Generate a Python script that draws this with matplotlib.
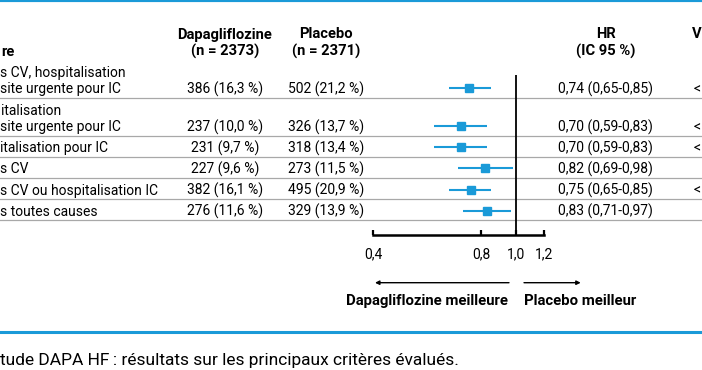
import matplotlib
matplotlib.use("Agg")
import matplotlib.pyplot as plt
from matplotlib.ticker import NullLocator

plt.rcParams['font.family'] = ['Roboto', 'DejaVu Sans']

# ---------------- data (as visible in the cropped reference) ----------------
criteria = [
    "s CV, hospitalisation\nsite urgente pour IC",
    "italisation\nsite urgente pour IC",
    "italisation pour IC",
    "s CV",
    "s CV ou hospitalisation IC",
    "s toutes causes",
]
dapa_n = [386, 237, 231, 227, 382, 276]
dapa_pct = [16.3, 10.0, 9.7, 9.6, 16.1, 11.6]
plac_n = [502, 326, 318, 273, 495, 329]
plac_pct = [21.2, 13.7, 13.4, 11.5, 20.9, 13.9]
hr = [0.74, 0.70, 0.70, 0.82, 0.75, 0.83]
ci_low = [0.65, 0.59, 0.59, 0.69, 0.65, 0.71]
ci_high = [0.85, 0.83, 0.83, 0.98, 0.85, 0.97]
p_values = ["<", "<", "<", "", "<", ""]
x_ticks = [0.4, 0.8, 1.0, 1.2]
x_tick_labels = ["0,4", "0,8", "1,0", "1,2"]

col_headers = ["Dapagliflozine\n(n = 2373)", "Placebo\n(n = 2371)", "HR\n(IC 95 %)"]
first_header = "re"
last_header = "V"
caption = "tude DAPA HF\u202f: résultats sur les principaux critères évalués."
better_left = "Dapagliflozine meilleure"
better_right = "Placebo meilleur"

# ---------------- layout ----------------
W, H = 702, 370
BLUE = '#1a9ad8'
GREY = '#a8a8a8'
FS = 10
FSB = 10.6

fig = plt.figure(figsize=(W / 100, H / 100), dpi=100)
tab = fig.add_axes([0, 0, 1, 1])
tab.set_xlim(0, W)
tab.set_ylim(H, 0)
tab.axis('off')

x0 = 0.5


def fr(v, d):
    return f"{v:.{d}f}".replace('.', ',')


def line_text(x, yc, s, ha='left', bold=False, size=None):
    if size is None:
        size = FSB if bold else FS
    tab.text(x, yc + 5, s, ha=ha, va='baseline', fontsize=size,
             fontweight='bold' if bold else 'normal', color='black')


# blue rules
tab.hlines(0, -10, W + 10, color=BLUE, lw=3)
tab.hlines(332.3, -10, W + 10, color=BLUE, lw=2.2)

# headers
col_x = [225, 326, 605.7]
hdr_y = [33.5, 50.5]
line_text(x0 + 0.5, hdr_y[1], first_header, bold=True)
for cx, h in zip(col_x, col_headers):
    for k, s in enumerate(h.split('\n')):
        line_text(cx, hdr_y[k], s, ha='center', bold=True)
line_text(691.5, hdr_y[0], last_header, bold=True)

# rows
top = 60.3
single = 21.2
extra = 16.5
y = top
centers = []
for i, c in enumerate(criteria):
    lines = c.split('\n')
    n = len(lines)
    bottom = y + single + extra * (n - 1)
    last = bottom - 9.6
    for k, s in enumerate(lines):
        line_text(x0, last - extra * (n - 1 - k), s)
    line_text(col_x[0], last, f"{dapa_n[i]} ({fr(dapa_pct[i], 1)} %)", ha='center')
    line_text(col_x[1], last, f"{plac_n[i]} ({fr(plac_pct[i], 1)} %)", ha='center')
    line_text(col_x[2], last, f"{fr(hr[i], 2)} ({fr(ci_low[i], 2)}-{fr(ci_high[i], 2)})", ha='center')
    if p_values[i]:
        line_text(693.5, last, p_values[i], ha='left')
    tab.hlines(bottom, -10, W + 10, color=GREY, lw=0.9)
    centers.append(last)
    y = bottom

# ---------------- forest plot ----------------
axis_y = 235
px0, px1 = 373.5, 544.35
fx = fig.add_axes([px0 / W, (H - axis_y) / H, (px1 - px0) / W, (axis_y - top) / H])
fx.patch.set_alpha(0)
fx.set_xscale('log')
fx.set_xlim(x_ticks[0], x_ticks[-1])
fx.set_ylim(axis_y, top)
fx.vlines(1.0, 75, axis_y, color='black', lw=1.3)
fx.hlines(centers, ci_low, ci_high, color=BLUE, lw=1.5)
fx.plot(hr, centers, 's', ms=6.2, color=BLUE, mec=BLUE)
fx.set_xticks(x_ticks)
fx.set_xticklabels(x_tick_labels)
fx.xaxis.set_minor_locator(NullLocator())
fx.tick_params(axis='x', direction='in', length=3.5, width=1.6, pad=9, labelsize=FS)
fx.set_yticks([])
for s in ['left', 'right', 'top']:
    fx.spines[s].set_visible(False)
fx.spines['bottom'].set_linewidth(1.8)

# arrows and labels
arr_y = 282.7
tab.annotate('', xy=(375, arr_y), xytext=(509, arr_y),
             arrowprops=dict(arrowstyle='-|>', color='black', lw=1.0,
                             mutation_scale=6, shrinkA=0, shrinkB=0))
tab.annotate('', xy=(580.7, arr_y), xytext=(524, arr_y),
             arrowprops=dict(arrowstyle='-|>', color='black', lw=1.0,
                             mutation_scale=6, shrinkA=0, shrinkB=0))
line_text(508, 300, better_left, ha='right', bold=True, size=10.7)
line_text(524, 300, better_right, ha='left', bold=True, size=10.7)

# caption
line_text(0.5, 359.5, caption, size=12.5)

fig.savefig("out.png", dpi=100)
